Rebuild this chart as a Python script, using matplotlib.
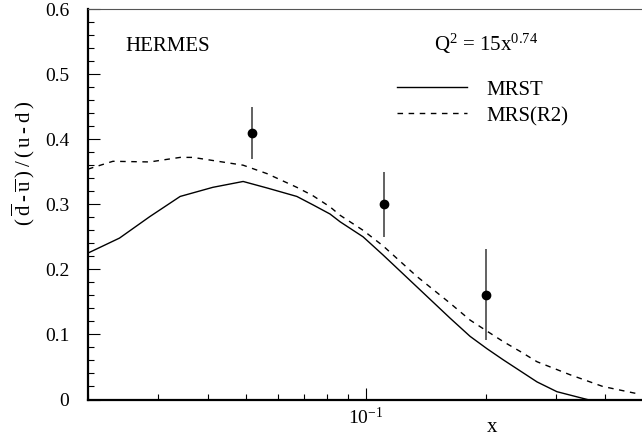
import matplotlib
matplotlib.use("Agg")
import matplotlib.pyplot as plt
from matplotlib.ticker import MultipleLocator, NullFormatter, LogLocator

plt.rcParams['font.family'] = ['Liberation Serif', 'DejaVu Serif']
plt.rcParams['mathtext.fontset'] = 'custom'
plt.rcParams['mathtext.rm'] = 'Liberation Serif'
plt.rcParams['mathtext.it'] = 'Liberation Serif'

# MRST curve
mrst_x = [0.020, 0.024, 0.0286, 0.0341, 0.0412, 0.0491, 0.0564, 0.067, 0.0736,
          0.0812, 0.0861, 0.0983, 0.1104, 0.1343, 0.1627, 0.1827, 0.2015, 0.2213,
          0.2692, 0.302, 0.36]
mrst_y = [0.225, 0.248, 0.281, 0.312, 0.326, 0.335, 0.325, 0.312, 0.299,
          0.285, 0.273, 0.250, 0.222, 0.173, 0.125, 0.097, 0.078, 0.061,
          0.027, 0.012, 0.0]

# MRS(R2) curve
r2_x = [0.020, 0.0231, 0.0286, 0.0341, 0.0367, 0.0491, 0.0564, 0.067, 0.0736,
        0.0812, 0.0861, 0.0983, 0.1104, 0.1343, 0.1627, 0.1827, 0.2015, 0.2213,
        0.2439, 0.2692, 0.326, 0.394, 0.489]
r2_y = [0.354, 0.366, 0.365, 0.372, 0.372, 0.360, 0.347, 0.326, 0.313,
        0.296, 0.283, 0.260, 0.236, 0.189, 0.148, 0.122, 0.105, 0.089,
        0.074, 0.058, 0.038, 0.020, 0.008]

# HERMES points
hermes_x = [0.0517, 0.1107, 0.200]
hermes_y = [0.410, 0.300, 0.161]
hermes_err = [0.040, 0.050, 0.070]

fig = plt.figure(figsize=(6.42, 4.41), dpi=100)
ax = fig.add_axes([88 / 642, (441 - 399.5) / 441, (644 - 88) / 642, (399.5 - 9) / 441])

ax.plot(mrst_x, mrst_y, color='black', lw=1.0)
ax.plot(r2_x, r2_y, color='black', lw=1.0, ls=(0, (4, 4)))
ax.errorbar(hermes_x, hermes_y, yerr=hermes_err, fmt='o', color='black',
            ecolor='#555555', elinewidth=1.3, markersize=6, capsize=0)

ax.set_xscale('log')
ax.set_xlim(0.02, 0.5)
ax.set_ylim(0, 0.6)

ax.yaxis.set_minor_locator(MultipleLocator(0.02))
ax.set_yticks([0, 0.1, 0.2, 0.3, 0.4, 0.5, 0.6])
ax.set_yticklabels(['0', '0.1', '0.2', '0.3', '0.4', '0.5', '0.6'])
ax.xaxis.set_major_locator(LogLocator(base=10))
ax.xaxis.set_minor_locator(LogLocator(base=10, subs=range(2, 10)))
ax.xaxis.set_minor_formatter(NullFormatter())

ax.tick_params(which='both', direction='in', top=False, right=False, width=0.8,
               labelsize=14)
ax.tick_params(axis='y', which='major', length=8.5, pad=13.5)
ax.tick_params(axis='y', which='minor', length=4.5)
ax.tick_params(axis='x', which='major', length=9, pad=5)
ax.tick_params(axis='x', which='minor', length=4.5)

ax.spines['left'].set_linewidth(1.6)
ax.spines['bottom'].set_linewidth(1.6)
ax.spines['top'].set_linewidth(0.8)
ax.spines['top'].set_color('#555555')
ax.spines['right'].set_visible(False)

# axis labels (the original font is wide, so space the letters a little)
sp = '\u2006'
ylab = sp.join(['(', r'$\overline{\mathrm{d}}$', '-', r'$\overline{\mathrm{u}}$', ')',
                '/', '(', 'u', '-', 'd', ')'])
ax.set_xlabel('x', fontsize=15)
ax.xaxis.label.set_va('baseline')
ax.xaxis.set_label_coords((492 - 88) / 556, -0.083)
ax.set_ylabel(ylab, fontsize=15)
ax.yaxis.set_label_coords(-0.092, 0.605)

ax.text(0.067, 0.893, 'HERMES', transform=ax.transAxes, fontsize=15, va='baseline')
ax.text(0.622, 0.893, r'Q$^2$ = 15x$^{0.74}$', transform=ax.transAxes, fontsize=15,
        va='baseline')

# legend drawn by hand
ax.plot([0.555, 0.681], [0.801, 0.801], transform=ax.transAxes, color='black', lw=1.0)
ax.plot([0.555, 0.681], [0.733, 0.733], transform=ax.transAxes, color='black', lw=1.0,
        ls=(0, (4, 4)))
ax.text(0.717, 0.781, 'MRST', transform=ax.transAxes, fontsize=15, va='baseline')
ax.text(0.717, 0.713, 'MRS(R2)', transform=ax.transAxes, fontsize=15, va='baseline')

fig.savefig('out.png', dpi=100)
